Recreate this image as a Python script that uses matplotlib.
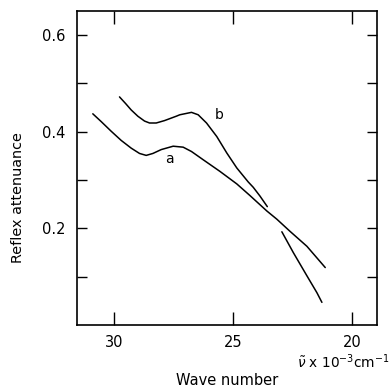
import numpy as np
import matplotlib
matplotlib.use("Agg")
import matplotlib.pyplot as plt

# curve a (lower)
a_x = [30.88, 30.53, 30.11, 29.69, 29.27, 28.92, 28.64, 28.36, 28.01, 27.51, 27.09, 26.74,
       26.25, 25.55, 24.84, 24.29, 23.58, 23.16, 22.61, 21.90, 21.13]
a_y = [0.437, 0.421, 0.401, 0.382, 0.366, 0.355, 0.351, 0.355, 0.363, 0.370, 0.368, 0.359,
       0.342, 0.318, 0.292, 0.268, 0.236, 0.219, 0.194, 0.163, 0.119]

# curve b (upper)
b_x = [29.76, 29.50, 29.27, 28.99, 28.71, 28.50, 28.22, 27.87, 27.38, 27.23, 26.74, 26.46,
       26.11, 25.68, 25.26, 24.84, 24.36, 24.15, 23.87, 23.56]
b_y = [0.472, 0.458, 0.445, 0.432, 0.422, 0.418, 0.418, 0.423, 0.432, 0.435, 0.440, 0.435,
       0.418, 0.390, 0.356, 0.325, 0.296, 0.285, 0.267, 0.245]

# steep tail segment
c_x = [22.95, 22.47, 21.90, 21.48, 21.27]
c_y = [0.193, 0.150, 0.102, 0.067, 0.047]

fig = plt.figure(figsize=(3.9, 3.87), dpi=100)
ax = fig.add_axes([0.197, 0.160, 0.769, 0.812])

for xs, ys in [(a_x, a_y), (b_x, b_y), (c_x, c_y)]:
    ax.plot(xs, ys, color="black", lw=1.1, solid_capstyle="round", solid_joinstyle="round")

ax.text(27.65, 0.344, "a", fontsize=10, ha="center", va="center")
ax.text(25.58, 0.435, "b", fontsize=10, ha="center", va="center")

ax.set_xlim(31.55, 18.97)
ax.set_ylim(0, 0.65)
ax.set_xticks([30, 25, 20])
ax.set_yticks([0.1, 0.2, 0.3, 0.4, 0.5, 0.6])
ax.set_yticklabels(["", "0.2", "", "0.4", "", "0.6"])
ax.tick_params(axis="x", direction="in", length=9.5, width=1.0, top=True, pad=7, labelsize=10.5)
ax.tick_params(axis="y", direction="in", length=7.5, width=1.0, right=True, pad=8, labelsize=10.5)
for s in ax.spines.values():
    s.set_linewidth(1.2)

ax.set_ylabel("Reflex attenuance", fontsize=10.4)
ax.yaxis.set_label_coords(-0.173, 0.406)

fig.text(0.583, 0.018, "Wave number", fontsize=10.5, ha="center", va="center")
fig.text(0.998, 0.066, r"$\tilde{\nu}$ x 10$^{-3}$cm$^{-1}$", fontsize=9.8, ha="right", va="center")

fig.savefig("out.png", dpi=100)
